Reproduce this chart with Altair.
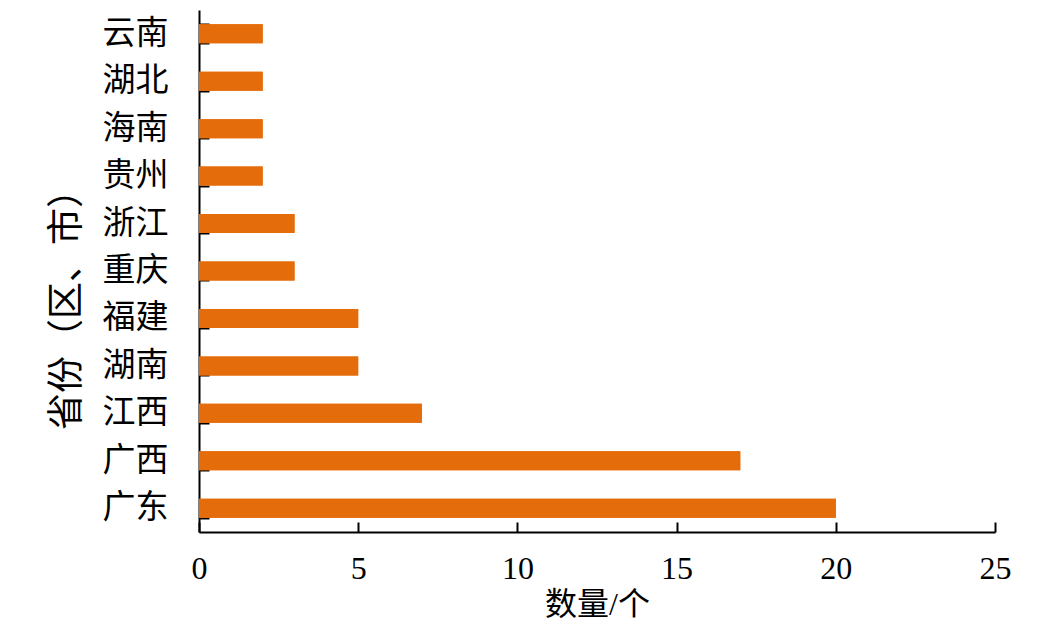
import altair as alt
import pandas as pd

provinces = ["云南", "湖北", "海南", "贵州", "浙江", "重庆", "福建", "湖南", "江西", "广西", "广东"]
counts = [2, 2, 2, 2, 3, 3, 5, 5, 7, 17, 20]
x_ticks = [0, 5, 10, 15, 20, 25]

df = pd.DataFrame({"province": provinces, "count": counts})

FONT = "Times New Roman, Liberation Serif, Noto Sans CJK SC"
BAR = "#E46C0A"

xscale = alt.Scale(domain=[0, 25], nice=False, zero=True)
yscale = alt.Scale(paddingInner=0.6, paddingOuter=0.3)

base = alt.Chart(df)

main = base.mark_bar(color=BAR).encode(
    x=alt.X("count:Q", scale=xscale,
            axis=alt.Axis(orient="bottom", values=x_ticks, ticks=False, tickSize=0,
                          grid=False, domainColor="black", domainWidth=2,
                          labelFont=FONT, labelFontSize=32, labelColor="black",
                          labelFlush=False,
                          labelPadding=21, title="数量/个", titleFont=FONT,
                          titleFontSize=32, titleFontWeight="normal", titleColor="black",
                          titlePadding=5)),
    y=alt.Y("province:N", sort=provinces, scale=yscale,
            axis=alt.Axis(orient="left", ticks=False, tickSize=0, grid=False,
                          domainColor="black", domainWidth=2,
                          labelFont=FONT, labelFontSize=33, labelColor="black",
                          labelPadding=31, title="省份（区、市）", titleFont=FONT,
                          titleFontSize=37, titleFontWeight="normal", titleColor="black",
                          titleX=-132, titleY=290, titleBaseline="middle", titleAngle=-90)),
)

ticks = base.mark_bar(color=BAR).encode(
    x=alt.X("count:Q", scale=xscale,
            axis=alt.Axis(orient="bottom", values=x_ticks, ticks=True, tickSize=10,
                          tickColor="black", tickWidth=2, offset=-10, domain=False,
                          labels=False, grid=False, title=None)),
    y=alt.Y("province:N", sort=provinces, scale=yscale,
            axis=alt.Axis(orient="left", ticks=True, tickSize=10, tickColor="black",
                          tickWidth=2, tickBand="extent", offset=-10, domain=False,
                          labels=False, grid=False, title=None)),
)

chart = alt.layer(main, ticks).resolve_axis(x="independent", y="independent").properties(
    width=796, height=522,
    autosize=alt.AutoSizeParams(type="none"),
    padding={"left": 191, "top": 2, "right": 37, "bottom": 103},
    background="white",
).configure_view(stroke=None)

chart.save("out.html", embed_options={"renderer": "svg", "actions": False})
